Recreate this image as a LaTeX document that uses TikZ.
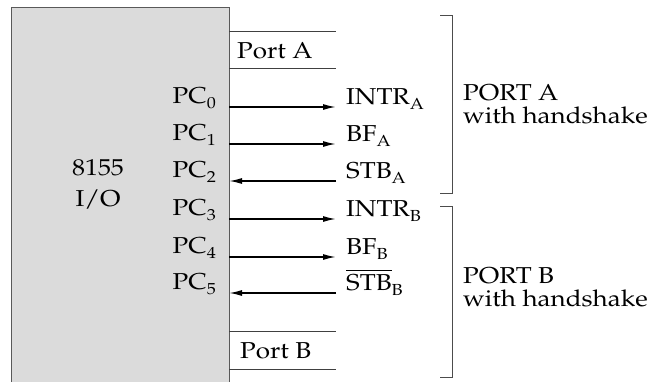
\documentclass[tikz,border=0pt]{standalone}
\usepackage[T1]{fontenc}
\usepackage{mathpazo}
\usepackage{graphicx}
\usetikzlibrary{arrows.meta}
\newcommand\hsc{1.13}
\newcommand\X[1]{\scalebox{\hsc}[1]{#1}}
\newcommand\sub[1]{\raisebox{-5.5pt}{\fontsize{16}{16}\selectfont #1}}
\tikzset{
  txt/.style={inner sep=0pt, font=\fontsize{23}{24}\selectfont},
  portline/.style={draw=black!75, line width=0.9pt},
  brk/.style={draw=black!70, line width=0.9pt},
  sig/.style={draw=black, line width=1.5pt, -{Latex[length=13pt,width=6pt]}},
}
\begin{document}
\begin{tikzpicture}[x=1pt,y=-1pt]
\useasboundingbox (0,0) rectangle (655,381);
\clip (0,0) rectangle (655,381);
% chip
\path[fill=black!14, draw=black!65, line width=1pt] (11,7) rectangle (229,400);
\node[txt, anchor=base] (chipname) at (98,175) {\X{8155}};
\node[txt, anchor=base] (chipio) at (98,206) {\X{I/O}};
% port A / port B
\coordinate (pa1) at (229,31); \coordinate (pa1e) at (336,31);
\coordinate (pa2) at (229,68); \coordinate (pa2e) at (336,68);
\draw[portline] (pa1) -- (pa1e);
\draw[portline] (pa2) -- (pa2e);
\node[txt, anchor=base west] (portA) at (237,58) {\X{Port A}};
\coordinate (pb1) at (229,331); \coordinate (pb1e) at (336,331);
\coordinate (pb2) at (229,369); \coordinate (pb2e) at (336,369);
\draw[portline] (pb1) -- (pb1e);
\draw[portline] (pb2) -- (pb2e);
\node[txt, anchor=base west] (portB) at (240,358) {\X{Port B}};
% PC labels
\node[txt, anchor=base east] (pc0) at (216,103) {\X{PC\sub{0}}};
\node[txt, anchor=base east] (pc1) at (216,140) {\X{PC\sub{1}}};
\node[txt, anchor=base east] (pc2) at (216,177) {\X{PC\sub{2}}};
\node[txt, anchor=base east] (pc3) at (216,215) {\X{PC\sub{3}}};
\node[txt, anchor=base east] (pc4) at (216,253) {\X{PC\sub{4}}};
\node[txt, anchor=base east] (pc5) at (216,289) {\X{PC\sub{5}}};
% signal labels
\node[txt, anchor=base west] (s0) at (346,104) {\X{INTR\sub{A}}};
\node[txt, anchor=base west] (s1) at (346,141) {\X{BF\sub{A}}};
\node[txt, anchor=base west] (s2) at (346,178) {\X{STB\sub{A}}};
\node[txt, anchor=base west] (s3) at (346,216) {\X{INTR\sub{B}}};
\node[txt, anchor=base west] (s4) at (346,254) {\X{BF\sub{B}}};
\node[txt, anchor=base west] (s5) at (346,290) {\X{$\overline{\mbox{STB}}$\sub{B}}};
% arrows
\foreach \i/\y in {0/107,1/144,2/181,3/219,4/257,5/293}{
  \coordinate (e\i) at (229,\y);
  \coordinate (t\i) at (336,\y);
}
\draw[sig] (e0) -- (t0);
\draw[sig] (e1) -- (t1);
\draw[sig] (t2) -- (e2);
\draw[sig] (e3) -- (t3);
\draw[sig] (e4) -- (t4);
\draw[sig] (t5) -- (e5);
% brackets
\coordinate (ba1) at (440,15); \coordinate (ba2) at (452,15);
\coordinate (ba3) at (452,193); \coordinate (ba4) at (440,193);
\draw[brk] (ba1) -- (ba2) -- (ba3) -- (ba4);
\coordinate (bb1) at (440,206); \coordinate (bb2) at (452,206);
\coordinate (bb3) at (452,377); \coordinate (bb4) at (440,377);
\draw[brk] (bb1) -- (bb2) -- (bb3) -- (bb4);
\node[txt, anchor=base west] (ga1) at (463,100) {\X{PORT A}};
\node[txt, anchor=base west] (ga2) at (463,123) {\X{with handshake}};
\node[txt, anchor=base west] (gb1) at (463,283) {\X{PORT B}};
\node[txt, anchor=base west] (gb2) at (463,306) {\X{with handshake}};
\end{tikzpicture}
\end{document}
